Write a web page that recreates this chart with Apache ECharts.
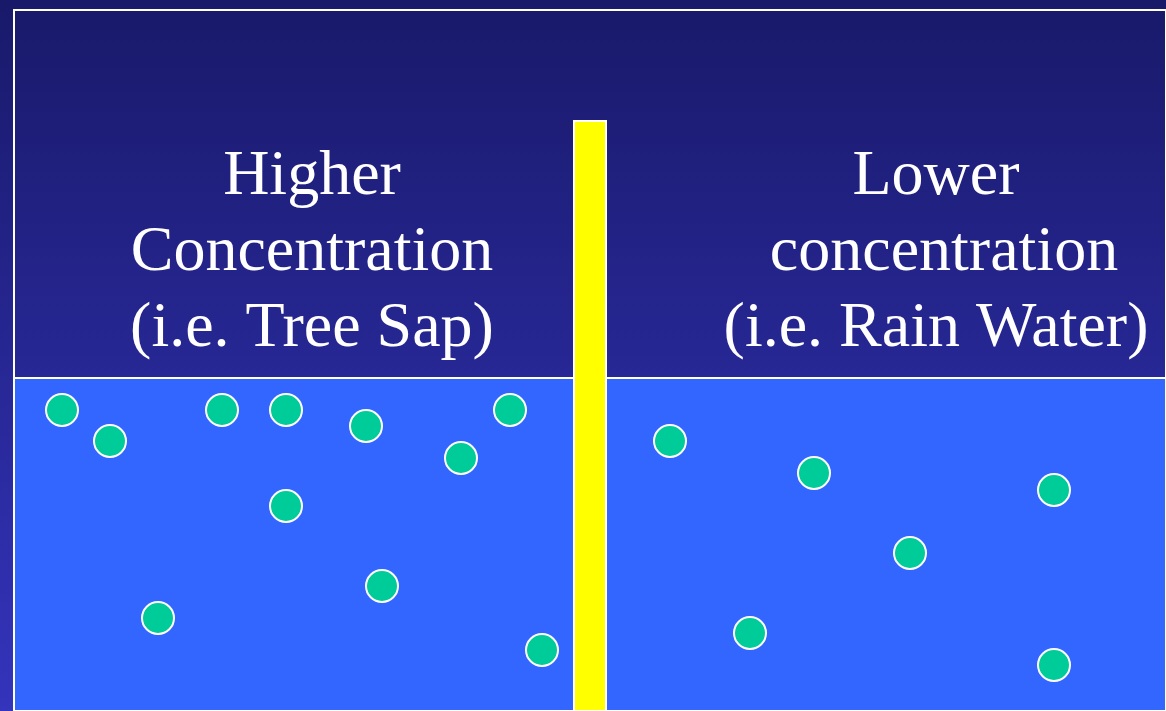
<!DOCTYPE html>
<html><head><meta charset="utf-8">
<script src="https://cdn.jsdelivr.net/npm/echarts@6/dist/echarts.min.js"></script>
<style>html,body{margin:0;padding:0;background:#1a1a6b}#c{width:1166px;height:711px}</style>
</head><body><div id="c"></div>
<script>
// Particle positions (diagram units = pixels of the reference frame)
const leftX  = [62, 110, 222, 286, 366, 510, 461, 286, 382, 158, 542];
const leftY  = [410, 441, 410, 410, 426, 410, 458, 506, 586, 618, 650];
const rightX = [670, 814, 1054, 910, 750, 1054];
const rightY = [441, 473, 490, 553, 633, 665];
// Regions
const leftWater  = [[14, 378], [574, 711]];
const rightWater = [[606, 378], [1166, 711]];
const membrane   = [[574, 121], [606, 711]];
const frame      = [[14, 10], [1170, 715]];
// Labels
const leftLabel  = ['Higher', 'Concentration', '(i.e. Tree Sap)'];
const rightLabel = ['Lower', ' concentration', '(i.e. Rain Water)'];

const chart = echarts.init(document.getElementById('c'));
const ptsL = leftX.map((x, i) => [x, leftY[i]]);
const ptsR = rightX.map((x, i) => [x, rightY[i]]);
const area = (r, style) => [{ coord: r[0], itemStyle: style }, { coord: r[1] }];
const waterStyle = { color: '#3366FF', borderColor: '#FFFFFF', borderWidth: 2 };

chart.setOption({
  animation: false,
  backgroundColor: {
    type: 'linear', x: 0, y: 0, x2: 0, y2: 1,
    colorStops: [{ offset: 0, color: '#19196a' }, { offset: 1, color: '#3434bc' }]
  },
  grid: { left: 0, right: 0, top: 0, bottom: 0 },
  xAxis: { type: 'value', min: 0, max: 1166, show: false },
  yAxis: { type: 'value', min: 0, max: 711, inverse: true, show: false },
  series: [
    {
      type: 'scatter', data: [], z: 1,
      markArea: {
        silent: true, z: 1,
        data: [
          area(frame, { color: 'rgba(0,0,0,0)', borderColor: '#FFFFFF', borderWidth: 2 }),
          area(leftWater, waterStyle),
          area(rightWater, waterStyle)
        ]
      }
    },
    {
      type: 'scatter', data: [], z: 2,
      markArea: {
        silent: true, z: 2,
        data: [area(membrane, { color: '#FFFF00', borderColor: '#FFFFFF', borderWidth: 2 })]
      }
    },
    {
      type: 'scatter', z: 5, data: ptsL.concat(ptsR), symbolSize: 32,
      itemStyle: { color: '#00CC99', borderColor: '#FFFFFF', borderWidth: 2, opacity: 1 }
    }
  ],
  graphic: [
    ...leftLabel.map((t, i) => ({
      type: 'text', x: 312, y: 177 + i * 76,
      style: { text: t, fill: '#FFFFFF', font: '64px "Liberation Serif", "Times New Roman", serif', align: 'center', verticalAlign: 'middle' }
    })),
    ...rightLabel.map((t, i) => ({
      type: 'text', x: 936, y: 177 + i * 76,
      style: { text: t, fill: '#FFFFFF', font: '64px "Liberation Serif", "Times New Roman", serif', align: 'center', verticalAlign: 'middle' }
    }))
  ]
});
</script></body></html>
